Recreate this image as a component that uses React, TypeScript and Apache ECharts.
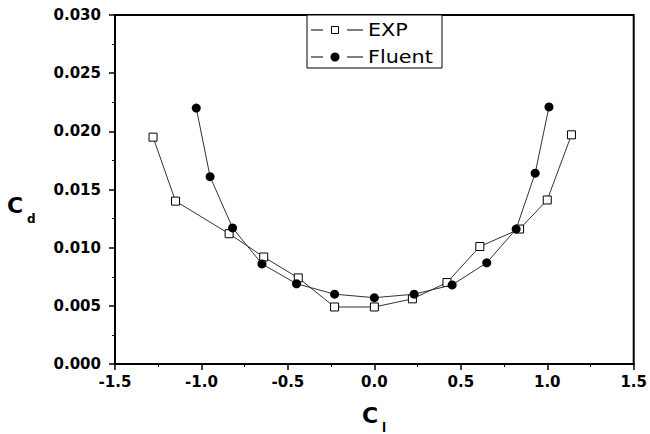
import React, { useEffect, useRef } from "react";
import * as echarts from "echarts";

const expCl = [-1.28, -1.15, -0.84, -0.64, -0.44, -0.23, 0.0, 0.22, 0.42, 0.61, 0.84, 1.0, 1.14];
const expCd = [0.0195, 0.014, 0.0112, 0.0092, 0.0074, 0.0049, 0.0049, 0.0056, 0.007, 0.0101, 0.0116, 0.0141, 0.0197];
const fluentCl = [-1.03, -0.95, -0.82, -0.65, -0.45, -0.23, 0.0, 0.23, 0.45, 0.65, 0.82, 0.93, 1.01];
const fluentCd = [0.022, 0.0161, 0.0117, 0.0086, 0.0069, 0.006, 0.0057, 0.006, 0.0068, 0.0087, 0.0116, 0.0164, 0.0221];
const legendNames = ["EXP", "Fluent"];

const FONT = "DejaVu Sans";

export default function App() {
  const ref = useRef<HTMLDivElement>(null);
  useEffect(() => {
    if (!ref.current) return;
    const chart = echarts.init(ref.current, null, { renderer: "svg" });
    const lineStyle = { color: "#333", width: 1 };
    const axisLabel = {
      color: "#000",
      fontFamily: FONT,
      fontWeight: "bold" as const,
      fontSize: 15,
    };
    chart.setOption({
      animation: false,
      backgroundColor: "#fff",
      grid: {
        left: 115,
        right: 15,
        top: 15,
        bottom: 70,
        show: true,
        borderColor: "#000",
        borderWidth: 2,
        backgroundColor: "transparent",
      },
      xAxis: {
        type: "value",
        min: -1.5,
        max: 1.5,
        interval: 0.5,
        axisLine: { show: true, onZero: false, lineStyle: { color: "#000", width: 2 } },
        axisTick: { show: true, inside: false, length: 6, lineStyle: { color: "#000", width: 1.5 } },
        minorTick: { show: true, splitNumber: 2, length: 3, lineStyle: { color: "#000", width: 1 } },
        splitLine: { show: false },
        axisLabel: { ...axisLabel, margin: 10, formatter: (v: number) => v.toFixed(1) },
      },
      yAxis: {
        type: "value",
        min: 0,
        max: 0.03,
        interval: 0.005,
        axisLine: { show: true, onZero: false, lineStyle: { color: "#000", width: 2 } },
        axisTick: { show: true, inside: false, length: 6, lineStyle: { color: "#000", width: 1.5 } },
        minorTick: { show: true, splitNumber: 2, length: 3, lineStyle: { color: "#000", width: 1 } },
        splitLine: { show: false },
        axisLabel: { ...axisLabel, margin: 14, formatter: (v: number) => v.toFixed(3) },
      },
      series: [
        {
          name: legendNames[0],
          type: "line",
          data: expCl.map((x, i) => [x, expCd[i]]),
          symbol: "rect",
          symbolSize: 8,
          lineStyle,
          itemStyle: { color: "#fff", borderColor: "#000", borderWidth: 1 },
          z: 3,
        },
        {
          name: legendNames[1],
          type: "line",
          data: fluentCl.map((x, i) => [x, fluentCd[i]]),
          symbol: "circle",
          symbolSize: 9,
          lineStyle,
          itemStyle: { color: "#000", borderColor: "#000", borderWidth: 0 },
          z: 4,
        },
      ],
      graphic: [
        {
          type: "rect",
          shape: { x: 307, y: 15, width: 135, height: 53 },
          style: { fill: "#fff", stroke: "#000", lineWidth: 1 },
          z: 10,
        },
        { type: "line", shape: { x1: 311, y1: 30, x2: 323, y2: 30 }, style: { stroke: "#000", lineWidth: 1 }, z: 11 },
        { type: "line", shape: { x1: 347, y1: 30, x2: 363, y2: 30 }, style: { stroke: "#000", lineWidth: 1 }, z: 11 },
        { type: "rect", shape: { x: 331.5, y: 26.5, width: 7, height: 7 }, style: { fill: "#fff", stroke: "#000", lineWidth: 1 }, z: 11 },
        {
          type: "text",
          x: 368,
          y: 30,
          scaleX: 1.22,
          style: { text: legendNames[0], fontFamily: FONT, fontSize: 17, fill: "#000", verticalAlign: "middle", align: "left" },
          z: 11,
        },
        { type: "line", shape: { x1: 311, y1: 57, x2: 323, y2: 57 }, style: { stroke: "#000", lineWidth: 1 }, z: 11 },
        { type: "line", shape: { x1: 347, y1: 57, x2: 363, y2: 57 }, style: { stroke: "#000", lineWidth: 1 }, z: 11 },
        { type: "circle", shape: { cx: 335, cy: 57, r: 4.5 }, style: { fill: "#000" }, z: 11 },
        {
          type: "text",
          x: 368,
          y: 57,
          scaleX: 1.22,
          style: { text: legendNames[1], fontFamily: FONT, fontSize: 17, fill: "#000", verticalAlign: "middle", align: "left" },
          z: 11,
        },
        {
          type: "text",
          x: 7,
          y: 205,
          style: { text: "C", fontFamily: FONT, fontWeight: "bold", fontSize: 22, fill: "#000", verticalAlign: "middle", align: "left" },
        },
        {
          type: "text",
          x: 27,
          y: 219,
          style: { text: "d", fontFamily: FONT, fontWeight: "bold", fontSize: 12, fill: "#000", verticalAlign: "middle", align: "left" },
        },
        {
          type: "text",
          x: 362,
          y: 415,
          style: { text: "C", fontFamily: FONT, fontWeight: "bold", fontSize: 22, fill: "#000", verticalAlign: "middle", align: "left" },
        },
        {
          type: "text",
          x: 382,
          y: 428,
          style: { text: "l", fontFamily: FONT, fontWeight: "bold", fontSize: 12, fill: "#000", verticalAlign: "middle", align: "left" },
        },
      ],
    });
    return () => chart.dispose();
  }, []);
  return <div ref={ref} style={{ width: 650, height: 434, position: "absolute", left: 0, top: 0 }} />;
}
